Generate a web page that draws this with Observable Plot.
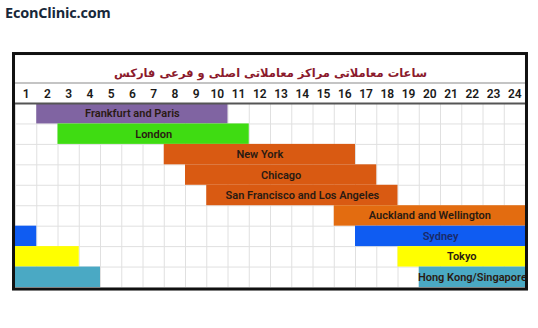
<!DOCTYPE html>
<html><head><meta charset="utf-8">
<script src="https://cdn.jsdelivr.net/npm/d3@7"></script>
<script src="https://cdn.jsdelivr.net/npm/@observablehq/plot@0.6"></script>
<style>
body{margin:0;background:#fff;}
#wrap{position:relative;width:538px;height:328px;}
#brand{position:absolute;left:5px;top:3px;font:bold 14.5px "Open Sans",sans-serif;color:#17283a;letter-spacing:-0.2px;}
</style></head>
<body><div id="wrap"><div id="brand">EconClinic.com</div></div>
<script>
const title = "ساعات معاملاتی مراکز معاملاتی اصلی و فرعی فارکس";
const hours = d3.range(1, 25);
const cities = ["Frankfurt and Paris","London","New York","Chicago","San Francisco and Los Angeles","Auckland and Wellington","Sydney","Tokyo","Hong Kong/Singapore"];
const openHour = [2, 3, 8, 9, 10, 16, 17, 19, 20];
const closeHour = [10, 11, 16, 17, 18, 24, 24, 24, 24];
const wrapClose = [0, 0, 0, 0, 0, 0, 1, 3, 4];
const colors = ["#8064a2","#3fdc12","#d95a12","#d95a12","#d95a12","#e36c10","#0f5cf2","#ffff00","#4aa9c4"];

const bars = [];
cities.forEach((c, i) => {
  bars.push({city: c, row: i, x1: openHour[i] - 1, x2: closeHour[i], color: colors[i], label: true});
  if (wrapClose[i] > 0) bars.push({city: c, row: i, x1: 0, x2: wrapClose[i], color: colors[i], label: false});
});

const chart = Plot.plot({
  width: 538, height: 328,
  marginLeft: 15, marginRight: 13, marginTop: 103, marginBottom: 41,
  x: {domain: [0, 24], axis: null},
  y: {domain: [0, 9], reverse: true, axis: null},
  style: {background: "transparent"},
  marks: [
    Plot.ruleX(d3.range(0, 25), {y1: 0, y2: 9, stroke: "#e0e0e0", strokeWidth: 1}),
    Plot.ruleY(d3.range(1, 10), {x1: 0, x2: 24, stroke: "#e0e0e0", strokeWidth: 1}),
    Plot.rect(bars, {x1: "x1", x2: "x2", y1: d => d.row, y2: d => d.row + 1, fill: "color"}),
    Plot.text(bars.filter(d => d.label), {
      x: d => (d.x1 + d.x2) / 2, y: d => d.row + 0.5, text: "city",
      fill: d => d.city === "Sydney" ? "#1a2a6a" : "#2a1a12",
      fontSize: 11, fontFamily: "'Roboto',sans-serif", fontWeight: 600
    }),
    Plot.ruleY([0], {x1: 0, x2: 24, stroke: "#555", strokeWidth: 1.8}),
    Plot.ruleY([-1], {x1: 0, x2: 24, stroke: "#b0b0b0", strokeWidth: 1.5}),
    Plot.text(hours, {x: d => d - 0.5, y: -0.48, text: d => String(d), fontSize: 12, fontWeight: 600,
      fontFamily: "'Roboto',sans-serif", fill: "#1a1a1a"}),
    Plot.text([title], {x: 12, y: -1.5, text: d => d, fontSize: 11.5, fontWeight: "bold",
      fontFamily: "'DejaVu Sans',sans-serif", fill: "#8b1a2c"}),
    Plot.rect([0], {x1: -0.07, x2: 24.07, y1: -2.42, y2: 9.1, fill: "none", stroke: "#111", strokeWidth: 3})
  ]
});
document.getElementById("wrap").appendChild(chart);
</script>
</body></html>
